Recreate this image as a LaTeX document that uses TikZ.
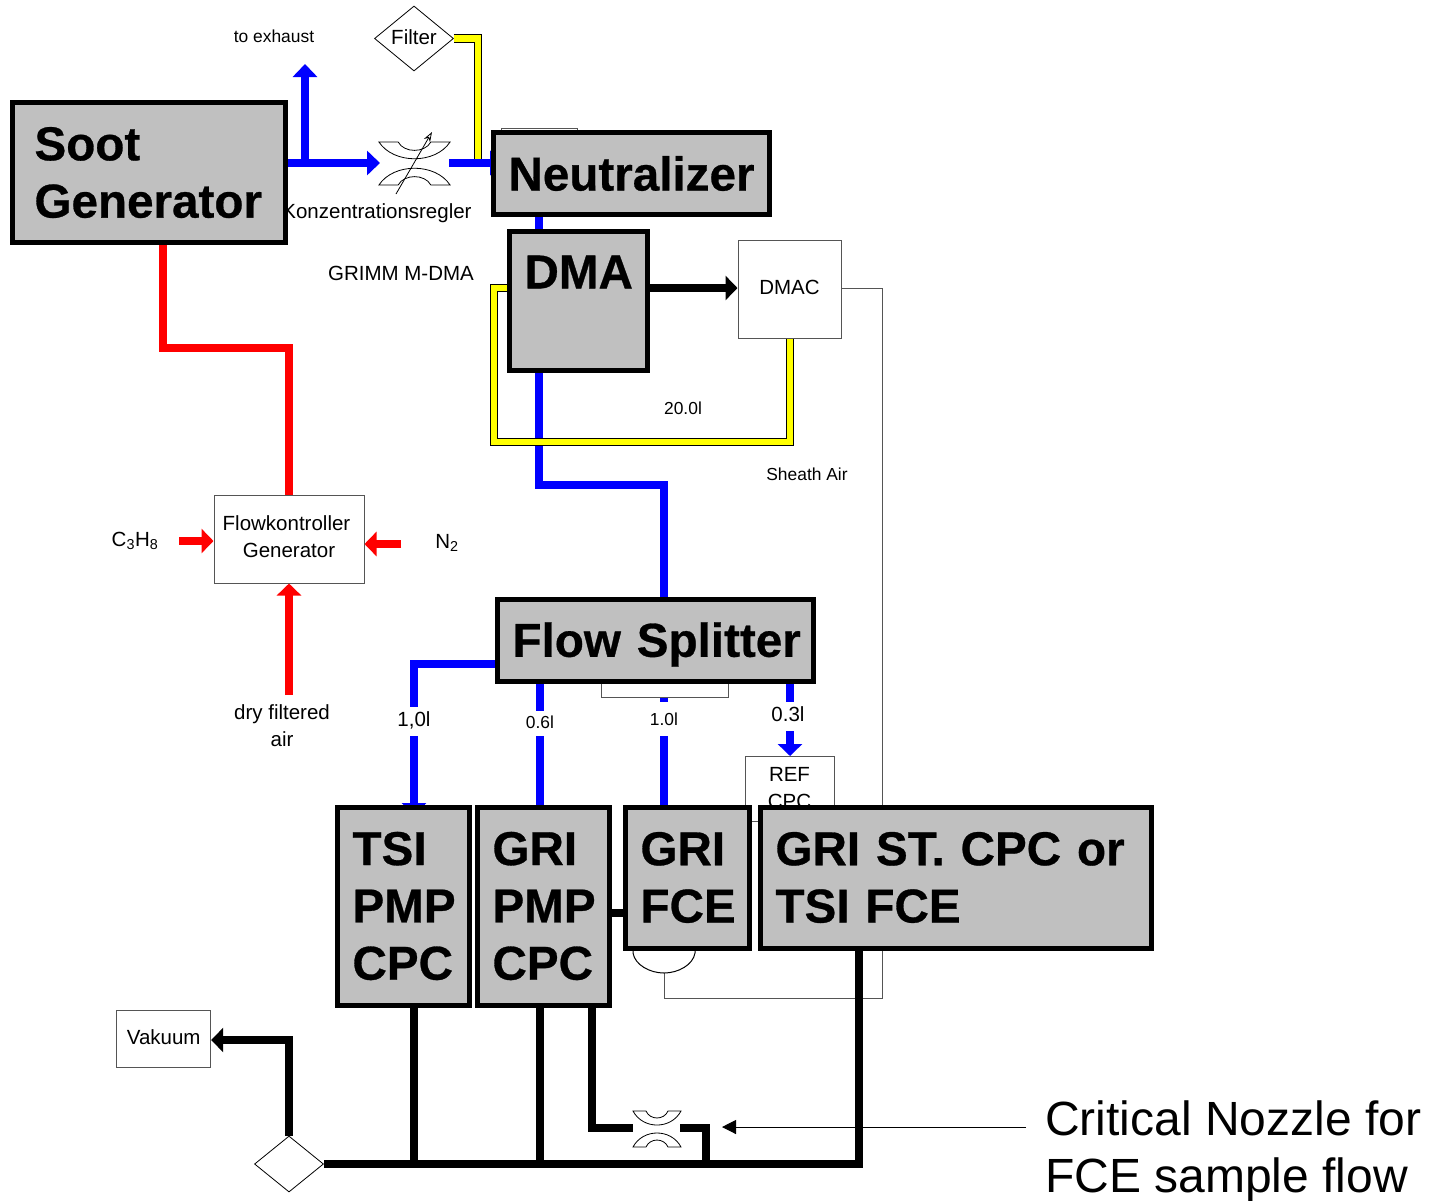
\documentclass[tikz,border=0pt]{standalone}
\usepackage{fontspec}
\setmainfont{Liberation Sans}
\newfontfamily\boxfont[BoldFeatures={FakeBold=0.6,WordSpace=0.7}]{Liberation Sans}
\usetikzlibrary{positioning,backgrounds,arrows.meta,shapes.geometric}
\definecolor{boxgray}{HTML}{C0C0C0}
\definecolor{pipeblue}{HTML}{0000FF}
\definecolor{pipered}{HTML}{FF0000}
\definecolor{pipeyellow}{HTML}{FFFF00}
\definecolor{thingray}{HTML}{555555}
\begin{document}
\begin{tikzpicture}[
    x=1pt,y=-1pt,
    every node/.style={font=\fontsize{20.5}{27}\selectfont,inner sep=0pt},
    bigbox/.style 2 args={rectangle,draw=black,line width=5pt,fill=boxgray,align=left,
      minimum width=#1,minimum height=#2,text width=#1-30pt,inner xsep=15pt,
      font=\fontsize{47.6}{57.3}\selectfont\boxfont\bfseries},
    thinbox/.style={rectangle,draw=thingray,line width=1pt,fill=white,align=center},
    thindia/.style={diamond,draw=black,line width=0.8pt,fill=white,aspect=1.2},
    tag/.style={fill=white,inner xsep=1pt,text depth=5pt,text height=14pt},
    smalltext/.style={font=\fontsize{17.4}{22}\selectfont},
    bluepipe/.style={line width=8.4pt,pipeblue},
    redpipe/.style={line width=8.4pt,pipered},
    blackpipe/.style={line width=8.4pt,black},
    yellowpipe/.style={line width=8.6pt,black,postaction={draw=pipeyellow,line width=6.8pt}},
    blueflow/.style={bluepipe,-{Triangle[length=13pt,width=24pt]}},
    redflow/.style={redpipe,-{Triangle[length=12pt,width=24pt]}},
    blackflow/.style={blackpipe,-{Triangle[length=12pt,width=24pt]}},
    nozzle/.pic={
      \draw[black,line width=0.8pt,fill=white] (-24,-18) -- (-11,-18) .. controls (-7,-8.7) and (7,-8.7) .. (11,-18)
        -- (24,-18) .. controls (14,0.7) and (-14,0.7) .. (-24,-18) -- cycle;
      \draw[black,line width=0.8pt,fill=white] (-24,18) -- (-11,18) .. controls (-7,8.7) and (7,8.7) .. (11,18)
        -- (24,18) .. controls (14,-0.7) and (-14,-0.7) .. (-24,18) -- cycle;
    },
  ]
  \useasboundingbox (0,0) rectangle (1431,1200);
  \node[bigbox={273}{140.5},inner xsep=22pt,text width=229pt,text depth=58pt] (soot) at (149,172.7) {Soot\\Generator};
  \node[bigbox={276}{82}] (neutral) at (631.5,173.5) {Neutralizer};
  \node[bigbox={138}{139},text depth=58pt] (dma) at (578.5,301) {DMA};
  \node[thinbox,minimum width=103,minimum height=98,text depth=3pt] (dmac) at (789.5,289) {DMAC};
  \node[thinbox,minimum width=150,minimum height=88,text depth=5pt] (flowctl) at (289,539) {Flowkontroller\hspace*{5pt}\\Generator};
  \node[bigbox={316}{82},text depth=2pt] (split) at (655.5,640.5) {\mbox{Flow Splitter}};
  \node[bigbox={132}{198}] (tsi) at (403.5,906) {TSI\\PMP\\CPC};
  \node[bigbox={132}{198}] (pmp) at (543.5,906) {GRI\\PMP\\CPC};
  \node[bigbox={124}{141}] (fce) at (687.5,877.5) {GRI\\FCE};
  \node[bigbox={391}{141}] (gst) at (956,877.5) {GRI ST. CPC or\\TSI FCE};
  \node[thinbox,minimum width=94,minimum height=57,text depth=2pt] (vakuum) at (163.7,1038.5) {Vakuum};
  \node[thindia,minimum width=79,minimum height=65,text depth=2pt] (filter) at (414,38.5) {Filter};
  \node[thindia,minimum width=69,minimum height=56] (pump) at (289,1164) {};
  \coordinate (exhaust) at (305,64);
  \coordinate (airin) at (289,695);
  \coordinate (c3h8in) at (179,541);
  \coordinate (n2in) at (401,544);
  \coordinate (notefrom) at (1026,1127);
  \coordinate (noteto) at (722,1127);
  \coordinate (regin) at (380,163);
  \coordinate (regout) at (449,163);
  \coordinate (neutin) at (506,163);
  \coordinate (tsiin) at (414,816);
  \coordinate (nozin) at (633,1128);
  \coordinate (nozout) at (680,1128);
  \node (exhausttxt) at (274,36) [smalltext] {to exhaust};
  \node (airtxt) at (282,726) [align=center] {dry filtered\\air};
  \node (c3h8txt) at (135,541) {C\textsubscript{3}H\textsubscript{8}};
  \node (n2txt) at (447,543) {N\textsubscript{2}};
  \node (grimmtxt) at (401,273) {GRIMM M-DMA};
  \node (ltrtxt) at (683,408) [smalltext] {20.0l};
  \node (sheathtxt) at (807,474) [smalltext] {Sheath Air};
  \node (notetxt) at (1045,1151.5) [anchor=west,align=left,font=\fontsize{48}{57.3}\selectfont] {Critical Nozzle for\\FCE sample flow};
  \begin{pgfonlayer}{background}
    \node[thinbox,minimum width=76,minimum height=20] (neutback) at (539,138) {};
    \node[thinbox,minimum width=127,minimum height=24] (splitback) at (664.5,685) {};
    \node[thinbox,minimum width=89,minimum height=65,anchor=north,text depth=3pt] (refcpc) at (789.5,756) {REF\\CPC};
    % flows, behind the boxes
    \draw[thingray,line width=1pt] (dmac.east |- 0,288) -- (882,288) -- (882,998) -- (664,998) -- (664,973);
    \draw[black,line width=1pt,fill=white] (633,950) -- (633,953) .. controls (635,965) and (650,973) .. (664,973)
      .. controls (678,973) and (693,965) .. (695,953) -- (695,950);
    \draw[bluepipe] (neutral.south -| 539,0) -- (dma.north -| 539,0);
    \draw[bluepipe] (dma.south -| 539,0) -- (539,485) -- (664,485) -- (split.north -| 664,0);
    \draw[yellowpipe] (dmac.south -| 790,0) -- (790,442) -- (494,442) -- (494,288) -- (dma.west |- 0,288);
    \draw[redpipe] (soot.south -| 163,0) -- (163,348) -- (289,348) -- (flowctl.north);
    \draw[yellowpipe] (filter.east) -- (478,38.5) -- (478,163);
    \draw[blueflow] (soot.east |- 0,163) -- (regin);
    \draw[blueflow] (305,163) -- (exhaust);
    \draw[blueflow,-{Triangle[length=16pt,width=24pt]}] (regout) -- (neutin);
    \node (regeltxt) at (377,213) {Konzentrationsregler};
    \draw[blueflow,-{Triangle[length=13pt,width=24pt]}] (split.west |- 0,664) -- (414,664) -- (tsiin);
    \draw[bluepipe] (split.south -| 540,0) -- (pmp.north -| 540,0);
    \draw[bluepipe] (splitback.south -| 664,0) -- (fce.north -| 664,0);
    \draw[blackpipe] (gst.south -| 859,0) -- (859,1164) -- (pump.east);
    \draw[blackpipe] (tsi.south -| 414,0) -- (414,1164);
    \draw[blackpipe] (pmp.south -| 540,0) -- (540,1164);
    \draw[blackpipe] (pmp.east |- 0,913) -- (fce.west |- 0,913);
    \draw[blackpipe] (pmp.south -| 592,0) -- (592,1128) -- (nozin);
    \draw[blackpipe] (nozout) -- (706,1128) -- (706,1164);
  \end{pgfonlayer}
  \draw[blueflow,-{Triangle[length=12pt,width=24pt]}] (split.south -| 790,0) -- (refcpc.north -| 790,0);
  \draw[blackflow] (dma.east |- 0,288) -- (dmac.west |- 0,288);
  \draw[redflow] (c3h8in) -- (flowctl.west |- c3h8in);
  \draw[redflow] (n2in) -- (flowctl.east |- n2in);
  \draw[redflow] (airin) -- (flowctl.south);
  \draw[blackflow] (pump.north) -- (289,1040) -- (vakuum.east |- 0,1040);
  \draw[black,line width=1pt,-{Triangle[length=14pt,width=14pt]}] (notefrom) -- (noteto);
  \node[tag,minimum height=29] (tag10a) at (414,721.5) {1,0l};
  \node[tag,minimum height=25,smalltext] (tag06) at (540,723.5) {0.6l};
  \node[tag,minimum height=34,smalltext,text depth=2pt] (tag10b) at (664,719) {1.0l};
  \node[tag,minimum height=29] (tag03) at (788,716.5) {0.3l};
  \pic[xscale=1.48,yscale=1.19] (regler) at (414.5,163.5) {nozzle};
  \draw[black,line width=0.8pt,-{Stealth[length=10pt,width=7pt,open]}] (396,194) -- (432,132);
  \pic (critnoz) at (657,1129) {nozzle};
\end{tikzpicture}
\end{document}
